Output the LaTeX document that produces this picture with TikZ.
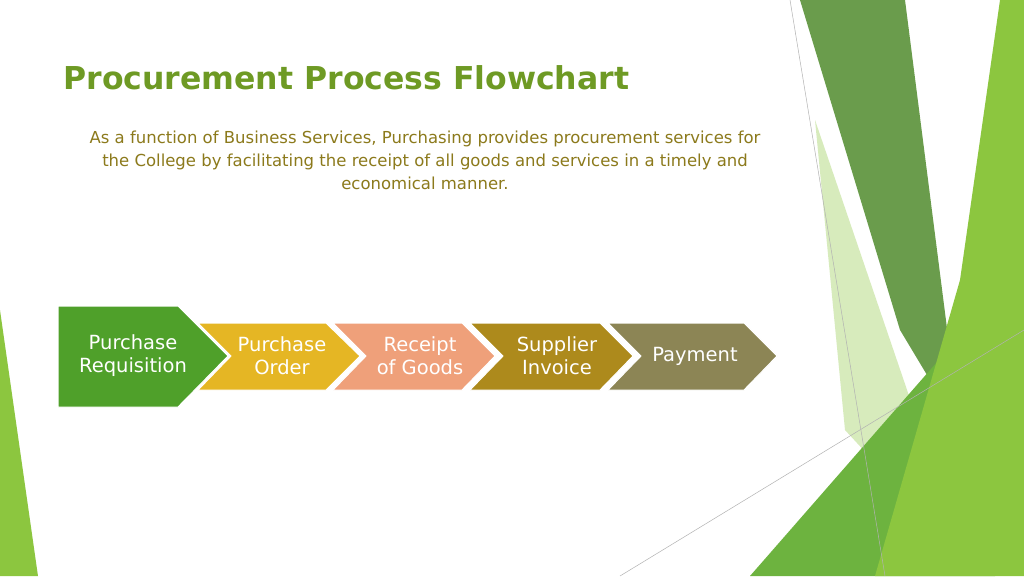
\documentclass[tikz,border=0pt]{standalone}
\usepackage{fontspec}
\setmainfont{DejaVu Sans}
\definecolor{titlegreen}{HTML}{6E9A24}
\definecolor{bodygold}{HTML}{8C7A1C}
\definecolor{stepgreen}{HTML}{4FA02A}
\definecolor{stepyellow}{HTML}{E5B624}
\definecolor{steppink}{HTML}{EFA07A}
\definecolor{stepbrown}{HTML}{AD8A1C}
\definecolor{stepgray}{HTML}{8C8555}
\definecolor{bandgreen}{HTML}{6A9C4C}
\definecolor{brightgreen}{HTML}{8CC63F}
\definecolor{midgreen}{HTML}{6DB33F}
\begin{document}
\begin{tikzpicture}[x=1pt,y=-1pt,
  steplabel/.style={text=white,font=\fontsize{19.5}{23}\selectfont,align=center},
  chevron/.style={draw=white,line width=1pt}]
  \useasboundingbox (0,0) rectangle (1024,576);
  \fill[white] (0,0) rectangle (1024,576);

  % background shapes
  \fill[brightgreen!35] (815,120) -- (965,560) -- (845,430) -- cycle;
  \fill[bandgreen] (800,0) -- (905,0) -- (960,430) -- (900,330) -- cycle;
  \fill[midgreen] (750,576) -- (965,330) -- (995,576) -- cycle;
  \fill[brightgreen] (1000,0) -- (1024,0) -- (1024,576) -- (875,576) -- (960,280) -- cycle;
  \fill[brightgreen] (0,310) -- (38,576) -- (0,576) -- cycle;
  \draw[gray!60,line width=0.5pt] (790,0) -- (885,576);
  \draw[gray!60,line width=0.5pt] (620,576) -- (1024,330);

  % title and text
  \node[anchor=west,text=titlegreen,font=\bfseries\fontsize{31.5}{36}\selectfont] (title) at (60,78) {Procurement Process Flowchart};
  \node[text=bodygold,align=center,font=\fontsize{16.5}{23}\selectfont] (intro) at (425,160)
    {As a function of Business Services, Purchasing provides procurement services for\\
     the College by facilitating the receipt of all goods and services in a timely and\\
     economical manner.};

  % chevrons
  \filldraw[chevron,fill=stepgray] (608,323) -- (744,323) -- (777,356) -- (744,390) -- (608,390) -- (641,356) -- cycle;
  \filldraw[chevron,fill=stepbrown] (470,323) -- (600,323) -- (633,356) -- (600,390) -- (470,390) -- (503,356) -- cycle;
  \filldraw[chevron,fill=steppink] (333,323) -- (462,323) -- (495,356) -- (462,390) -- (333,390) -- (366,356) -- cycle;
  \filldraw[chevron,fill=stepyellow] (198,323) -- (326,323) -- (360,356) -- (326,390) -- (198,390) -- (231,356) -- cycle;
  \filldraw[chevron,fill=stepgreen] (58,306) -- (178,306) -- (228,356) -- (178,407) -- (58,407) -- cycle;

  \node[steplabel] (req) at (133,356) {Purchase\\Requisition};
  \node[steplabel] (order) at (282,356) {Purchase\\Order};
  \node[steplabel] (receipt) at (420,356) {Receipt\\of Goods};
  \node[steplabel] (invoice) at (557,356) {Supplier\\Invoice};
  \node[steplabel] (pay) at (695,356) {Payment};
\end{tikzpicture}
\end{document}
